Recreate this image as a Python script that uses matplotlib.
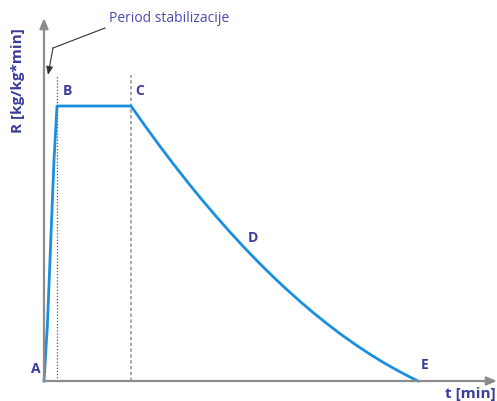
import matplotlib.pyplot as plt

# curve data (t, R) in arbitrary units
rise_t = [0, 3.3, 6, 10, 13]
rise_r = [0, 54, 121, 221, 275]
flat_t = [13, 87]
flat_r = [275, 275]
fall_t = [87, 101, 115, 129, 143, 157, 171, 185, 199, 213, 227, 241, 255, 269, 283,
          297, 311, 325, 339, 353, 367, 374]
fall_r = [275, 255.2, 236.0, 217.5, 199.6, 182.4, 165.9, 150.0, 134.8, 120.2, 106.3,
          93.1, 80.5, 68.5, 57.3, 46.6, 36.7, 27.4, 18.7, 10.8, 3.4, 0]
markers_t = [13.3, 86.5]
point_labels = ["A", "B", "C", "D", "E"]

fig = plt.figure(figsize=(4.97, 4.01), dpi=100)
ax = fig.add_axes([0, 0, 1, 1])
ax.set_xlim(-44, 453)
ax.set_ylim(-20, 381)
ax.axis('off')

axis_col = '#8c8c8c'
lab_col = '#3b3b9c'
curve_col = '#1a8fe0'

# vertical markers
ax.plot([markers_t[0]] * 2, [0, 306], color='#555555', lw=0.9, ls=(0, (1, 1.5)))
ax.plot([markers_t[1]] * 2, [0, 306], color='#999999', lw=1.2, ls=(0, (2, 1.5)))

# axes with arrows
ax.annotate('', xy=(453, 0), xytext=(0, 0),
            arrowprops=dict(arrowstyle='-|>,head_length=0.6,head_width=0.25', color=axis_col, lw=1.6,
                            shrinkA=0, shrinkB=0))
ax.annotate('', xy=(0, 363), xytext=(0, 0),
            arrowprops=dict(arrowstyle='-|>,head_length=0.6,head_width=0.25', color=axis_col, lw=1.6,
                            shrinkA=0, shrinkB=0))

# curve
ax.plot(rise_t + flat_t[1:] + fall_t[1:], rise_r + flat_r[1:] + fall_r[1:],
        color=curve_col, lw=2.0, solid_joinstyle='round')

fp = dict(color=lab_col, fontsize=10, fontweight='bold', family='Open Sans')
ax.text(-13, 12, point_labels[0], ha='left', va='center', **fp)
ax.text(19, 290, point_labels[1], ha='left', va='center', **fp)
ax.text(91, 290, point_labels[2], ha='left', va='center', **fp)
ax.text(204, 143, point_labels[3], ha='left', va='center', **fp)
ax.text(377, 16, point_labels[4], ha='left', va='center', **fp)

ax.text(452, -13, 't [min]', ha='right', va='center', color=lab_col, fontsize=11,
        fontweight='bold', family='Open Sans')
ax.text(-26, 300, 'R [kg/kg*min]', ha='center', va='center', rotation=90, color=lab_col,
        fontsize=11, fontweight='bold', family='Open Sans')

# annotation
ax.text(65, 363, 'Period stabilizacije', ha='left', va='center', color='#4a4ab0', fontsize=10,
        family='Open Sans')
ax.plot([61, 9], [353, 333], color='#333333', lw=0.8)
ax.annotate('', xy=(4, 306), xytext=(9, 333),
            arrowprops=dict(arrowstyle='-|>,head_length=0.5,head_width=0.2', color='#333333', lw=0.8,
                            shrinkA=0, shrinkB=0))

fig.savefig('out.png', dpi=100)
